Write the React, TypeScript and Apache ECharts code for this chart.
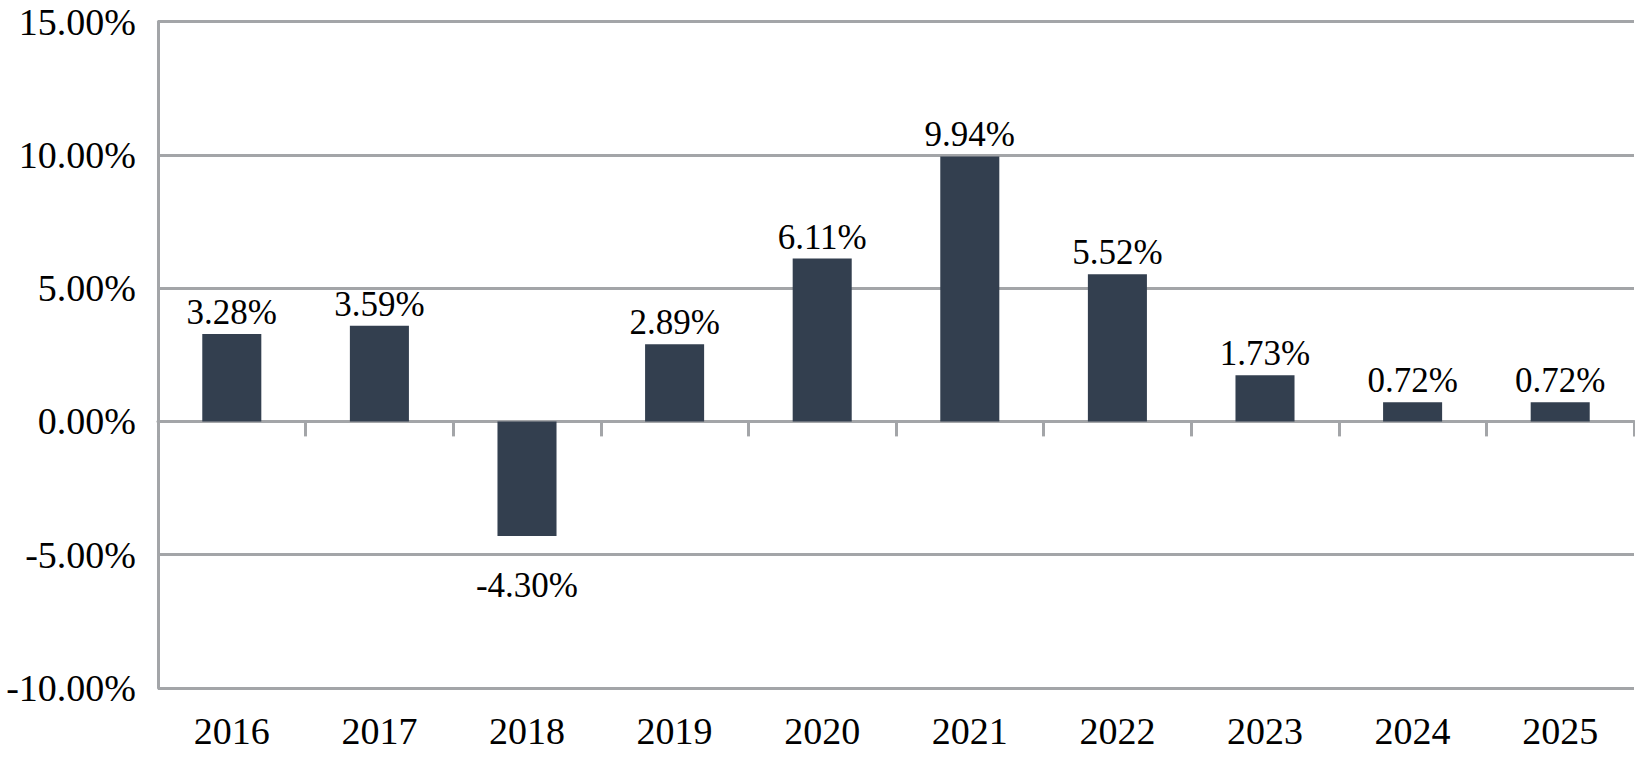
import React, { useEffect, useRef } from "react";
import * as echarts from "echarts";

const categories = ["2016", "2017", "2018", "2019", "2020", "2021", "2022", "2023", "2024", "2025"];
const values = [3.28, 3.59, -4.3, 2.89, 6.11, 9.94, 5.52, 1.73, 0.72, 0.72];
const yMin = -10;
const yMax = 15;
const yStep = 5;

const FONT = "'Liberation Serif', 'Times New Roman', serif";
const GRAY = "#A3A5A8";
const BAR = "#333F4F";

export default function App() {
  const ref = useRef<HTMLDivElement>(null);
  useEffect(() => {
    if (!ref.current) return;
    const chart = echarts.init(ref.current, null, { renderer: "svg" });
    chart.setOption({
      animation: false,
      backgroundColor: "#ffffff",
      grid: { left: 158, right: 1, top: 21.5, bottom: 72, containLabel: false },
      xAxis: [
        {
          type: "category",
          data: categories,
          position: "bottom",
          axisLine: { show: false, onZero: false },
          axisTick: { show: false },
          axisLabel: { color: "#000", fontFamily: FONT, fontSize: 38, margin: 24 },
        },
        {
          type: "category",
          data: categories,
          position: "bottom",
          axisLine: { show: true, onZero: true, lineStyle: { color: GRAY, width: 3 } },
          axisTick: { show: true, length: 15, lineStyle: { color: GRAY, width: 3 } },
          axisLabel: { show: false },
        },
      ],
      yAxis: {
        type: "value",
        min: yMin,
        max: yMax,
        interval: yStep,
        axisLine: { show: true, lineStyle: { color: GRAY, width: 3 } },
        axisTick: { show: false },
        splitLine: { show: true, lineStyle: { color: GRAY, width: 3 } },
        axisLabel: {
          color: "#000",
          fontFamily: FONT,
          fontSize: 38,
          margin: 22,
          formatter: (v: number) => v.toFixed(2) + "%",
        },
      },
      series: [
        {
          type: "bar",
          xAxisIndex: 0,
          data: values.map((v) => ({
            value: v,
            label: v >= 0 ? { position: "top", distance: 4 } : { position: "bottom", distance: 32 },
          })),
          barWidth: "40%",
          itemStyle: { color: BAR },
          label: {
            show: true,
            color: "#000",
            fontFamily: FONT,
            fontSize: 35,
            formatter: (p: any) => p.value.toFixed(2) + "%",
          },
        },
      ],
    });
    return () => chart.dispose();
  }, []);
  return (
    <div
      ref={ref}
      style={{ position: "fixed", left: 0, top: 0, width: 1635, height: 760, background: "#fff" }}
    />
  );
}
